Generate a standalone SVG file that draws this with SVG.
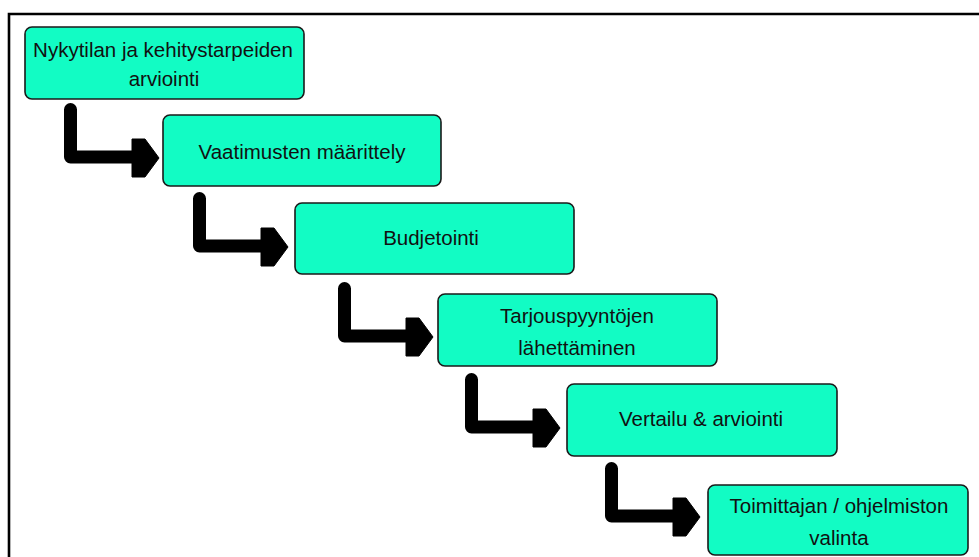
<svg xmlns="http://www.w3.org/2000/svg" width="979" height="557" viewBox="0 0 979 557">
<defs>
<style>
.box{fill:#12fcc4;stroke:#1a1a1a;stroke-width:1.6}
.lbl{font-family:"Liberation Sans",Arial,sans-serif;font-size:20.5px;fill:#111;text-anchor:middle}
.shaft{fill:none;stroke:#000;stroke-width:13;stroke-linejoin:round;stroke-linecap:round}
.head{fill:#000;stroke:#000;stroke-width:1;stroke-linejoin:round}
</style>
<g id="arrow">
<path class="shaft" d="M6.5 6.5 V54 H70"/>
<polygon class="head" points="68,36 81,36 95,55 81,74 68,74"/>
</g>
</defs>
<rect width="979" height="557" fill="#fff"/>
<path d="M9 557 V14 H979" fill="none" stroke="#000" stroke-width="2.6"/>
<g id="connectors">
<use href="#arrow" x="64" y="103"/>
<use href="#arrow" x="193" y="192"/>
<use href="#arrow" x="338" y="282"/>
<use href="#arrow" x="465" y="373"/>
<use href="#arrow" x="605" y="462"/>
</g>
<g id="n1">
<rect class="box" x="25" y="27" width="279" height="72" rx="7"/>
<text class="lbl" x="163" y="57">Nykytilan ja kehitystarpeiden</text>
<text class="lbl" x="164" y="86">arviointi</text>
</g>
<g id="n2">
<rect class="box" x="163" y="115" width="278" height="71" rx="7"/>
<text class="lbl" x="302" y="159">Vaatimusten määrittely</text>
</g>
<g id="n3">
<rect class="box" x="295" y="203" width="279" height="71" rx="7"/>
<text class="lbl" x="431" y="245">Budjetointi</text>
</g>
<g id="n4">
<rect class="box" x="438" y="294" width="279" height="72" rx="7"/>
<text class="lbl" x="577" y="323">Tarjouspyyntöjen</text>
<text class="lbl" x="577" y="355">lähettäminen</text>
</g>
<g id="n5">
<rect class="box" x="567" y="384" width="270" height="72" rx="7"/>
<text class="lbl" x="701" y="426">Vertailu &amp; arviointi</text>
</g>
<g id="n6">
<rect class="box" x="708" y="485" width="260" height="70" rx="7"/>
<text class="lbl" x="839" y="513">Toimittajan / ohjelmiston</text>
<text class="lbl" x="839" y="545">valinta</text>
</g>
</svg>
